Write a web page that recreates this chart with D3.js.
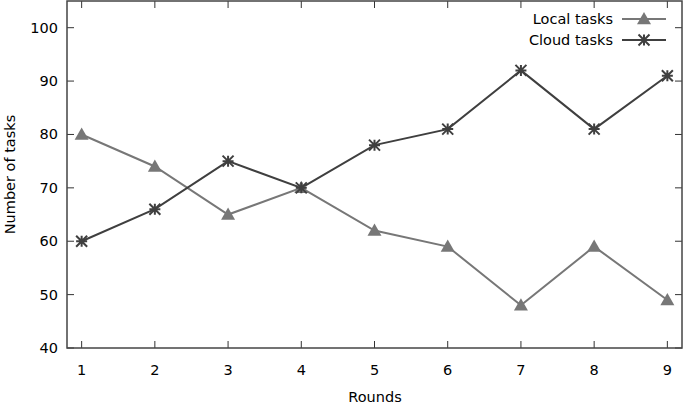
<!DOCTYPE html>
<html>
<head>
<meta charset="utf-8">
<script src="https://cdn.jsdelivr.net/npm/d3@7"></script>
<style>
  body { margin: 0; background: #fff; }
  text { font-family: "DejaVu Sans", Verdana, sans-serif; font-size: 14.5px; fill: #000; }
</style>
</head>
<body>
<svg id="chart"></svg>
<script>
const width = 685;
const height = 405;

const rounds = [1, 2, 3, 4, 5, 6, 7, 8, 9];
const localTasks = [80, 74, 65, 70, 62, 59, 48, 59, 49];
const cloudTasks = [60, 66, 75, 70, 78, 81, 92, 81, 91];
const yTicks = [40, 50, 60, 70, 80, 90, 100];

const plotLeft = 67, plotRight = 682, plotTop = 1, plotBottom = 348;
const tickLen = 7;

const svg = d3.select('#chart')
    .attr('width', width)
    .attr('height', height);

const x = d3.scaleLinear().domain([0.8, 9.2]).range([plotLeft, plotRight]);
const y = d3.scaleLinear().domain([40, 105]).range([plotBottom, plotTop]);

// ticks (gnuplot style: inward, mirrored)
const tickColor = '#333';
rounds.forEach(r => {
    svg.append('line').attr('x1', x(r)).attr('x2', x(r))
        .attr('y1', plotBottom).attr('y2', plotBottom - tickLen)
        .attr('stroke', tickColor).attr('stroke-width', 1);
    svg.append('line').attr('x1', x(r)).attr('x2', x(r))
        .attr('y1', plotTop).attr('y2', plotTop + tickLen)
        .attr('stroke', tickColor).attr('stroke-width', 1);
    svg.append('text').attr('x', x(r)).attr('y', plotBottom + 27)
        .attr('text-anchor', 'middle').text(r);
});
yTicks.forEach(v => {
    svg.append('line').attr('x1', plotLeft).attr('x2', plotLeft + tickLen)
        .attr('y1', y(v)).attr('y2', y(v))
        .attr('stroke', tickColor).attr('stroke-width', 1);
    svg.append('line').attr('x1', plotRight).attr('x2', plotRight - tickLen)
        .attr('y1', y(v)).attr('y2', y(v))
        .attr('stroke', tickColor).attr('stroke-width', 1);
    svg.append('text').attr('x', plotLeft - 9).attr('y', y(v) + 5)
        .attr('text-anchor', 'end').text(v);
});

// frame
svg.append('rect')
    .attr('x', plotLeft).attr('y', plotTop)
    .attr('width', plotRight - plotLeft).attr('height', plotBottom - plotTop)
    .attr('fill', 'none').attr('stroke', '#444').attr('stroke-width', 1.5);

// axis titles
svg.append('text').attr('x', 375).attr('y', 402)
    .attr('text-anchor', 'middle').text('Rounds');
svg.append('text')
    .attr('transform', `translate(15, ${(plotTop + plotBottom) / 2}) rotate(-90)`)
    .attr('text-anchor', 'middle').text('Number of tasks');

const line = d3.line()
    .x((d, i) => x(rounds[i]))
    .y(d => y(d));

const localColor = '#777777';
const cloudColor = '#3f3f3f';

function triangle(g, cx, cy, color) {
    const s = 7;
    g.append('path')
        .attr('d', `M${cx},${cy - s} L${cx + s},${cy + s * 0.75} L${cx - s},${cy + s * 0.75} Z`)
        .attr('fill', color);
}

function star(g, cx, cy, color) {
    const s = 5.5;
    g.append('path')
        .attr('d', `M${cx - s},${cy} H${cx + s} M${cx},${cy - s} V${cy + s} ` +
            `M${cx - s},${cy - s} L${cx + s},${cy + s} M${cx - s},${cy + s} L${cx + s},${cy - s}`)
        .attr('stroke', color).attr('stroke-width', 2).attr('fill', 'none');
}

svg.append('path').datum(localTasks)
    .attr('d', line).attr('fill', 'none')
    .attr('stroke', localColor).attr('stroke-width', 2);
svg.append('path').datum(cloudTasks)
    .attr('d', line).attr('fill', 'none')
    .attr('stroke', cloudColor).attr('stroke-width', 2);

const markers = svg.append('g');
localTasks.forEach((v, i) => triangle(markers, x(rounds[i]), y(v), localColor));
cloudTasks.forEach((v, i) => star(markers, x(rounds[i]), y(v), cloudColor));

// legend
const legend = svg.append('g');
const legendItems = [
    {name: 'Local tasks', color: localColor, mark: triangle, y: 19},
    {name: 'Cloud tasks', color: cloudColor, mark: star, y: 40}
];
legendItems.forEach(d => {
    legend.append('text').attr('x', 613).attr('y', d.y + 5)
        .attr('text-anchor', 'end').text(d.name);
    legend.append('line').attr('x1', 622).attr('x2', 666)
        .attr('y1', d.y).attr('y2', d.y)
        .attr('stroke', d.color).attr('stroke-width', 2);
    d.mark(legend, 644, d.y, d.color);
});
</script>
</body>
</html>
